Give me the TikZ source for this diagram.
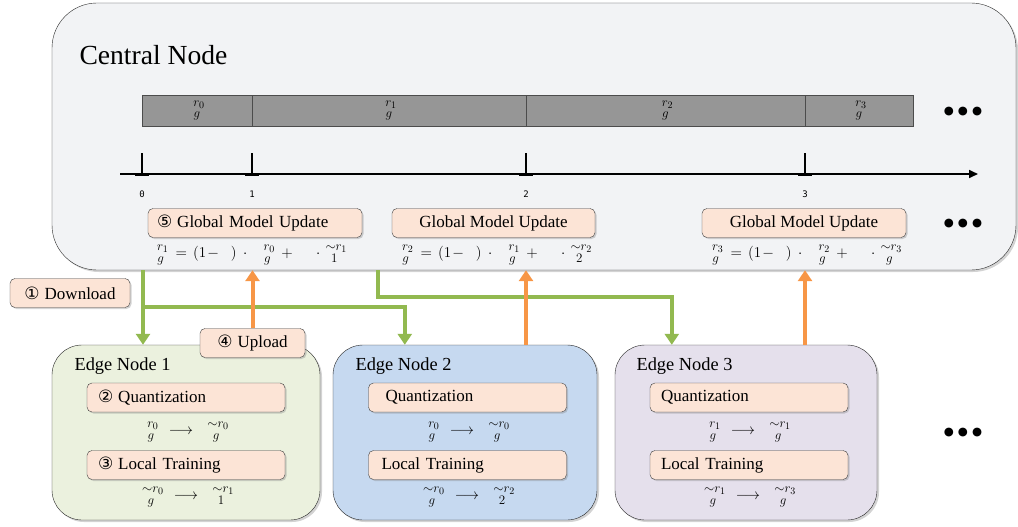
\RequirePackage{fix-cm}
\documentclass[tikz,border=0pt]{standalone}
\usepackage{fontspec}
\usepackage{amsmath}
\setmainfont{Liberation Serif}
\newfontfamily\symfont{DejaVu Sans}
\newfontfamily\tickfont{DejaVu Sans Mono}
\usetikzlibrary{arrows.meta,shadows}
\DeclareMathSizes{15}{15}{13}{10}
\definecolor{panel}{HTML}{F2F3F5}
\definecolor{peach}{HTML}{FCE4D6}
\definecolor{bargray}{HTML}{969696}
\definecolor{egreen}{HTML}{EBF1DE}
\definecolor{eblue}{HTML}{C6D9F0}
\definecolor{elav}{HTML}{E5E0EC}
\definecolor{dlgreen}{HTML}{92B950}
\definecolor{ulorange}{HTML}{F79646}
\newcommand{\cn}[1]{{\symfont #1}\hspace{5pt}}
\newcommand{\st}[2]{\genfrac{}{}{0pt}{}{\hspace{4pt}#1}{#2}}
\newcommand{\gupd}[3]{$\st{r_{#1}}{g}\hspace{2pt}=\hspace{2pt}(1\hspace{1pt}-\hspace{12pt})\hspace{3pt}\cdot\hspace{8pt}\st{r_{#2}}{g}\hspace{2pt}+\hspace{20pt}\cdot\st{\sim r_{#1}}{#3}$}
\newcommand{\qz}[4]{$\st{#1}{#2}\hspace{5pt}\longrightarrow\hspace{5pt}\st{#3}{#4}$}
\tikzset{pbox/.style={draw=black!75, fill=peach, rounded corners=5pt, minimum height=29pt, inner sep=0pt,
    drop shadow={shadow xshift=1.5pt,shadow yshift=-1.5pt,opacity=0.35}, font=\fontsize{17}{20}\selectfont}}
\tikzset{sbox/.append style={pbox, text width=176pt, inner xsep=11pt, align=left}}
\tikzset{enode/.style={draw=black!85, rounded corners=30pt, minimum height=175pt, inner sep=0pt,
    drop shadow={shadow xshift=2pt,shadow yshift=-2pt,opacity=0.35}}}
\tikzset{seg/.style={draw=black!70, fill=bargray, minimum height=31pt, inner sep=0pt, font=\fontsize{15}{17}\selectfont}}
\tikzset{fml/.style={inner sep=0pt, font=\fontsize{15}{17}\selectfont}}
\tikzset{dl/.style={draw=dlgreen, line width=4pt, -{Triangle[width=14pt,length=11pt]}}}
\tikzset{ul/.style={draw=ulorange, line width=4pt, -{Triangle[width=14pt,length=11pt]}}}
\tikzset{dots/.style={font=\symfont\fontsize{11.5}{12}\selectfont, inner sep=0pt}}
\begin{document}
\begin{tikzpicture}[x=1pt,y=-1pt]
    \useasboundingbox (0,0) rectangle (1018,527);
    % central node
    \node[draw=black!85, fill=panel, rounded corners=45pt, minimum width=964pt, minimum height=267pt,
        drop shadow={shadow xshift=2pt,shadow yshift=-2pt,opacity=0.35}] (central) at (534,136.5) {};
    \node[anchor=west, font=\fontsize{27.6}{30}\selectfont] (ctitle) at (76,55) {Central Node};
    % rounds bar
    \node[seg, minimum width=110pt] (seg0) at (197,110.5) {$\st{r_0}{g}$};
    \node[seg, minimum width=274pt] (seg1) at (389,110.5) {$\st{r_1}{g}$};
    \node[seg, minimum width=279pt] (seg2) at (665.5,110.5) {$\st{r_2}{g}$};
    \node[seg, minimum width=108pt] (seg3) at (859,110.5) {$\st{r_3}{g}$};
    \node[dots] (dots1) at (963,112) {●\hspace{4pt}●\hspace{4pt}●};
    % time axis
    \coordinate (axs) at (120,174);
    \coordinate (axe) at (978,174);
    \draw[line width=1.6pt, -{Triangle[width=8pt,length=9pt]}] (axs) -- (axe);
    \foreach \i/\x in {0/142,1/252,2/526,3/805} {
        \coordinate (t\i) at (\x,174);
        \draw[line width=2.5pt] (\x,153) -- (t\i);
        \draw[line width=3pt] ([xshift=-7pt]t\i) -- ([xshift=7pt]t\i);
        \node[font=\tickfont\fontsize{9}{10}\selectfont] (lab\i) at (\x,194) {\i};
    }
    % global updates
    \node[pbox, minimum width=214pt, text width=196pt, inner xsep=9pt, align=left] (gu1) at (255,223) {\cn{⑤}Global Model Update};
    \node[pbox, minimum width=203pt] (gu2) at (493.5,223) {Global Model Update};
    \node[pbox, minimum width=204pt] (gu3) at (804,223) {Global Model Update};
    \node[dots] (dots2) at (963,224) {●\hspace{4pt}●\hspace{4pt}●};
    \node[fml] (f1) at (250,255) {\gupd{1}{0}{1}};
    \node[fml] (f2) at (495,255) {\gupd{2}{1}{2}};
    \node[fml] (f3) at (805,255) {\gupd{3}{2}{g}};
    % edge nodes
    \node[enode, fill=egreen, minimum width=268pt] (edge1) at (186,432.5) {};
    \node[enode, fill=eblue, minimum width=264pt] (edge2) at (465,432.5) {};
    \node[enode, fill=elav, minimum width=262pt] (edge3) at (746,432.5) {};
    \node[anchor=west, font=\fontsize{18.4}{20}\selectfont] (et1) at (71,366) {Edge Node 1};
    \node[anchor=west, font=\fontsize{18.4}{20}\selectfont] (et2) at (352,366) {Edge Node 2};
    \node[anchor=west, font=\fontsize{18.4}{20}\selectfont] (et3) at (633,366) {Edge Node 3};
    \node[sbox] (q1) at (186,397.5) {\cn{②}Quantization};
    \node[sbox] (q2) at (467.5,397.5) {\hspace{6pt}Quantization};
    \node[sbox] (q3) at (749,397.5) {Quantization};
    \node[sbox] (lt1) at (186,465) {\cn{③}Local Training};
    \node[sbox] (lt2) at (467.5,465) {\hspace{2pt}Local Training};
    \node[sbox] (lt3) at (749,465) {Local Training};
    \node[fml] (qf1) at (186,432) {\qz{r_0}{g}{\sim r_0}{g}};
    \node[fml] (qf2) at (467,432) {\qz{r_0}{g}{\sim r_0}{g}};
    \node[fml] (qf3) at (748,432) {\qz{r_1}{g}{\sim r_1}{g}};
    \node[fml] (tf1) at (186,497) {\qz{\sim r_0}{g}{\sim r_1}{1}};
    \node[fml] (tf2) at (467,497) {\qz{\sim r_0}{g}{\sim r_2}{2}};
    \node[fml] (tf3) at (748,497) {\qz{\sim r_1}{g}{\sim r_3}{g}};
    \node[dots] (dots3) at (963,433) {●\hspace{4pt}●\hspace{4pt}●};
    % download / upload
    \node[pbox, minimum width=120pt] (dl) at (70,293) {\cn{①}Download};
    \node[pbox, minimum width=105pt] (upl) at (252.5,343) {\cn{④}Upload};
    \coordinate (dlj) at (143,307);
    \coordinate (dls) at (378,270);
    \draw[dl] (central.south -| dlj) -- (edge1.north -| dlj);
    \draw[dl] (dlj) -| ([xshift=72pt]edge2.north west);
    \draw[dl] (dls) -- ++(0,27) -| ([xshift=57pt]edge3.north west);
    \draw[ul] (upl.north) -- (central.south -| upl.north);
    \draw[ul] (edge2.north -| t2) -- (central.south -| t2);
    \draw[ul] (edge3.north -| t3) -- (central.south -| t3);
\end{tikzpicture}
\end{document}
